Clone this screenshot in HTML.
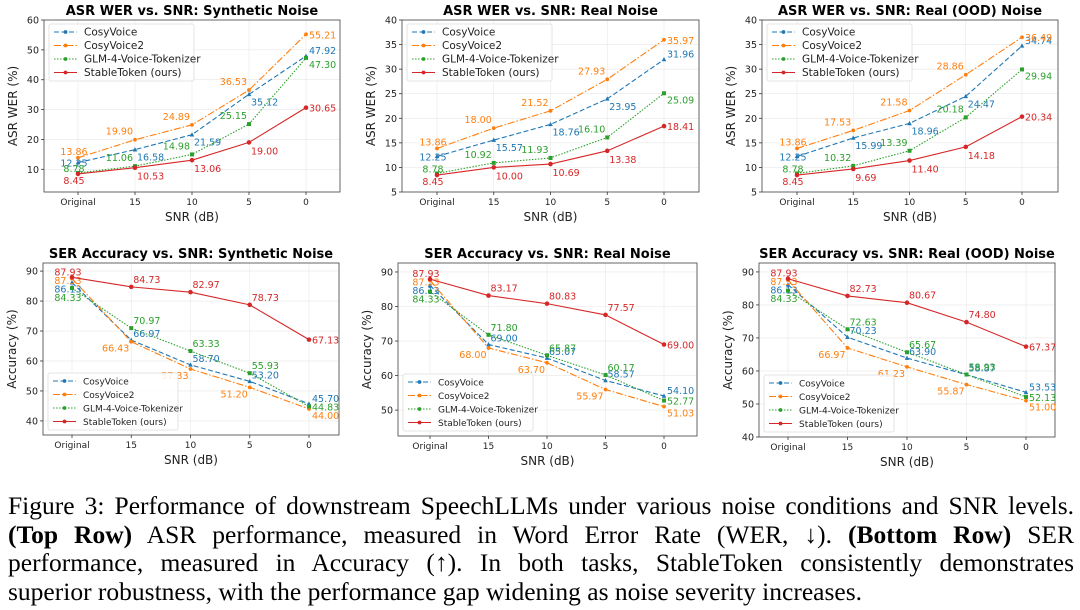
<!DOCTYPE html>
<html><head><meta charset="utf-8"><style>
body{margin:0;background:#fff;width:1080px;height:610px;overflow:hidden;position:relative}
svg{display:block}
#cap{position:absolute;left:8px;top:492px;width:1066px;font-family:"Liberation Serif",serif;font-size:25.5px;line-height:28.7px;color:#000}
#cap div{white-space:nowrap;text-align:justify;text-align-last:justify}
#cap div.last{text-align-last:left}
</style></head><body>
<svg id="fig" width="1080" height="490" xmlns="http://www.w3.org/2000/svg" font-family="DejaVu Sans, Liberation Sans, sans-serif"></svg>
<div id="cap">
<div>Figure 3: Performance of downstream SpeechLLMs under various noise conditions and SNR levels.</div>
<div><b>(Top Row)</b> ASR performance, measured in Word Error Rate (WER, ↓). <b>(Bottom Row)</b> SER</div>
<div>performance, measured in Accuracy (↑). In both tasks, StableToken consistently demonstrates</div>
<div class="last">superior robustness, with the performance gap widening as noise severity increases.</div>
</div>
<script>
const categories=["Original","15","10","5","0"];
const seriesNames=["CosyVoice","CosyVoice2","GLM-4-Voice-Tokenizer","StableToken (ours)"];
const asrSynthCV=[12.25,16.58,21.59,35.12,47.92];
const asrSynthCV2=[13.86,19.90,24.89,36.53,55.21];
const asrSynthGLM=[8.78,11.06,14.98,25.15,47.30];
const asrSynthST=[8.45,10.53,13.06,19.00,30.65];
const asrRealCV=[12.25,15.57,18.76,23.95,31.96];
const asrRealCV2=[13.86,18.00,21.52,27.93,35.97];
const asrRealGLM=[8.78,10.92,11.93,16.10,25.09];
const asrRealST=[8.45,10.00,10.69,13.38,18.41];
const asrOodCV=[12.25,15.99,18.96,24.47,34.74];
const asrOodCV2=[13.86,17.53,21.58,28.86,36.49];
const asrOodGLM=[8.78,10.32,13.39,20.18,29.94];
const asrOodST=[8.45,9.69,11.40,14.18,20.34];
const serSynthCV=[86.13,66.97,58.70,53.20,45.70];
const serSynthCV2=[87.53,66.43,57.33,51.20,44.00];
const serSynthGLM=[84.33,70.97,63.33,55.93,44.83];
const serSynthST=[87.93,84.73,82.97,78.73,67.13];
const serRealCV=[86.13,69.00,65.07,58.57,54.10];
const serRealCV2=[87.53,68.00,63.70,55.97,51.03];
const serRealGLM=[84.33,71.80,65.87,60.17,52.77];
const serRealST=[87.93,83.17,80.83,77.57,69.00];
const serOodCV=[86.13,70.23,63.90,58.87,53.53];
const serOodCV2=[87.53,66.97,61.23,55.87,51.00];
const serOodGLM=[84.33,72.63,65.67,58.93,52.13];
const serOodST=[87.93,82.73,80.67,74.80,67.37];
const asrTicksA=[10,20,30,40,50,60];
const asrTicksB=[5,10,15,20,25,30,35,40];
const serTicksA=[40,50,60,70,80,90];
const serTicksB=[50,60,70,80,90];

const NS="http://www.w3.org/2000/svg";
const svg=document.getElementById('fig');
const colors=["#1f77b4","#ff7f0e","#2ca02c","#d62728"];
const dashes=["5,2.5","7,2,1.5,2","1.5,1.5",""];
function el(tag,attrs,parent){const e=document.createElementNS(NS,tag);for(const k in attrs)e.setAttribute(k,attrs[k]);(parent||svg).appendChild(e);return e;}
function txt(s,attrs,parent){const e=el('text',attrs,parent);e.textContent=s;return e;}

function panel(o){
  const g=el('g',{});
  
  
  const yS=v=>o.y1-(v-o.ymin)/(o.ymax-o.ymin)*(o.y1-o.y0);
  const xS=i=>o.xa+(o.xb-o.xa)*i/(categories.length-1);
  o.ticks.forEach(t=>{el('line',{x1:o.x0,x2:o.x1,y1:yS(t),y2:yS(t),stroke:"#e8e8e8","stroke-width":0.6},g);});
  categories.forEach((c,i)=>{el('line',{x1:xS(i),x2:xS(i),y1:o.y0,y2:o.y1,stroke:"#e8e8e8","stroke-width":0.6},g);});
  const fr=el('rect',{x:o.x0,y:o.y0,width:o.x1-o.x0,height:o.y1-o.y0,fill:"none",stroke:"#555","stroke-width":0.9},g);
  
  o.ticks.forEach(t=>{
    el('line',{x1:o.x0-3,x2:o.x0,y1:yS(t),y2:yS(t),stroke:"#333","stroke-width":0.8},g);
    const tl=txt(String(t),{x:o.x0-5,y:yS(t)+3.5,"font-size":9.5,"text-anchor":"end",fill:"#222"},g);
    
  });
  categories.forEach((c,i)=>{
    el('line',{x1:xS(i),x2:xS(i),y1:o.y1,y2:o.y1+3,stroke:"#333","stroke-width":0.8},g);
    const tl=txt(c,{x:xS(i),y:o.y1+13,"font-size":9,"text-anchor":"middle",fill:"#222"},g);
    
  });
  const t=txt(o.title,{x:(o.x0+o.x1)/2,y:o.y0-5,"font-size":13,"font-weight":"bold","text-anchor":"middle",fill:"#000"},g);
  
  const xl=txt("SNR (dB)",{x:(o.x0+o.x1)/2,y:o.y1+29,"font-size":12,"text-anchor":"middle",fill:"#222"},g);
  
  const yl=txt(o.ylabel,{x:0,y:0,"font-size":12,"text-anchor":"middle",fill:"#222",transform:`translate(${o.x0-27},${(o.y0+o.y1)/2}) rotate(-90)`},g);
  
  o.series.forEach((vals,s)=>{
    const pts=vals.map((v,i)=>xS(i)+","+yS(v)).join(" ");
    const ln=el('polyline',{points:pts,fill:"none",stroke:colors[s],"stroke-width":1.1,"stroke-dasharray":dashes[s]},g);
    
    
    vals.forEach((v,i)=>{
      const x=xS(i),y=yS(v);
      let m;
      if(s==2)m=el('rect',{x:x-2,y:y-2,width:4,height:4,fill:colors[s]},g);
      else if(s==0)m=el('polygon',{points:`${x},${y-2.5} ${x-2.3},${y+1.8} ${x+2.3},${y+1.8}`,fill:colors[s]},g);
      else m=el('circle',{cx:x,cy:y,r:s==3?2.3:1.9,fill:colors[s]},g);
      
      let lx,ly,anc;
      if(i==0){
        anc="middle";lx=x-4;
        if(o.kind=="ser"){
          const rank=[2,1,3,0][s];
          ly=yS(o.series[3][0])-2+rank*8.5;
        } else {
          ly=y+[4,-3,-1,10][s];
        }
      } else if(i==4){
        anc="start";lx=x+3;
        ly=y+(o.kind=="ser"?[-2,10,4,4]:[-2,4,10,4])[s];
      } else {
        const off=o.off[s];lx=x+off[0];ly=y+off[1];anc=off[2];
      }
      const lb=txt(v.toFixed(2),{x:lx,y:ly,"font-size":9.5,"text-anchor":anc,fill:colors[s]},g);
      
    });
  });
  const lx=o.x0+5, ly=o.legTop?o.y0+4:o.y1-62, lw=o.legW, lh=57;
  const lg=el('g',{},g);
  
  el('rect',{x:lx,y:ly,width:lw,height:lh,fill:"#fff","fill-opacity":0.85,stroke:"#ddd","stroke-width":0.8,rx:2},lg);
  seriesNames.forEach((n,s)=>{
    const yy=ly+8+s*13.5;
    el('line',{x1:lx+5,x2:lx+28,y1:yy,y2:yy,stroke:colors[s],"stroke-width":1.1,"stroke-dasharray":dashes[s]},lg);
    el('circle',{cx:lx+16.5,cy:yy,r:1.9,fill:colors[s]},lg);
    const e=txt(n,{x:lx+35,y:yy+3.5,"font-size":o.legFont,fill:"#222"},lg);
    
  });
}
const asrOff=[[2,11,"start"],[-2,-5,"end"],[-2,-5,"end"],[2,12,"start"]];
const serOff=[[2,-3,"start"],[-2,10,"end"],[2,-4,"start"],[2,-4,"start"]];
panel({kind:"asr",name:"asr-synthetic-chart",title:"ASR WER vs. SNR: Synthetic Noise",ylabel:"ASR WER (%)",x0:44,x1:340,y0:20,y1:192,xa:78,xb:306,ymin:2.4,ymax:60,ticks:asrTicksA,series:[asrSynthCV,asrSynthCV2,asrSynthGLM,asrSynthST],off:asrOff,legTop:true,legW:145,legFont:10.5});
panel({kind:"asr",name:"asr-real-chart",title:"ASR WER vs. SNR: Real Noise",ylabel:"ASR WER (%)",x0:402,x1:699,y0:20,y1:192,xa:437,xb:664,ymin:5,ymax:40,ticks:asrTicksB,series:[asrRealCV,asrRealCV2,asrRealGLM,asrRealST],off:asrOff,legTop:true,legW:145,legFont:10.5});
panel({kind:"asr",name:"asr-ood-chart",title:"ASR WER vs. SNR: Real (OOD) Noise",ylabel:"ASR WER (%)",x0:762,x1:1058,y0:20,y1:192,xa:797,xb:1022,ymin:5,ymax:40,ticks:asrTicksB,series:[asrOodCV,asrOodCV2,asrOodGLM,asrOodST],off:asrOff,legTop:true,legW:145,legFont:10.5});
panel({kind:"ser",name:"ser-synthetic-chart",title:"SER Accuracy vs. SNR: Synthetic Noise",ylabel:"Accuracy (%)",x0:43,x1:339,y0:263,y1:435,xa:72,xb:309,ymin:35.3,ymax:92.7,ticks:serTicksA,series:[serSynthCV,serSynthCV2,serSynthGLM,serSynthST],off:serOff,legTop:false,legW:130,legFont:9});
panel({kind:"ser",name:"ser-real-chart",title:"SER Accuracy vs. SNR: Real Noise",ylabel:"Accuracy (%)",x0:398,x1:697,y0:263,y1:436,xa:430,xb:664,ymin:42.5,ymax:92.6,ticks:serTicksB,series:[serRealCV,serRealCV2,serRealGLM,serRealST],off:serOff,legTop:false,legW:130,legFont:9});
panel({kind:"ser",name:"ser-ood-chart",title:"SER Accuracy vs. SNR: Real (OOD) Noise",ylabel:"Accuracy (%)",x0:759,x1:1055,y0:263,y1:437,xa:788,xb:1026,ymin:40,ymax:92.7,ticks:serTicksA,series:[serOodCV,serOodCV2,serOodGLM,serOodST],off:serOff,legTop:false,legW:130,legFont:9});
</script>
</body></html>
